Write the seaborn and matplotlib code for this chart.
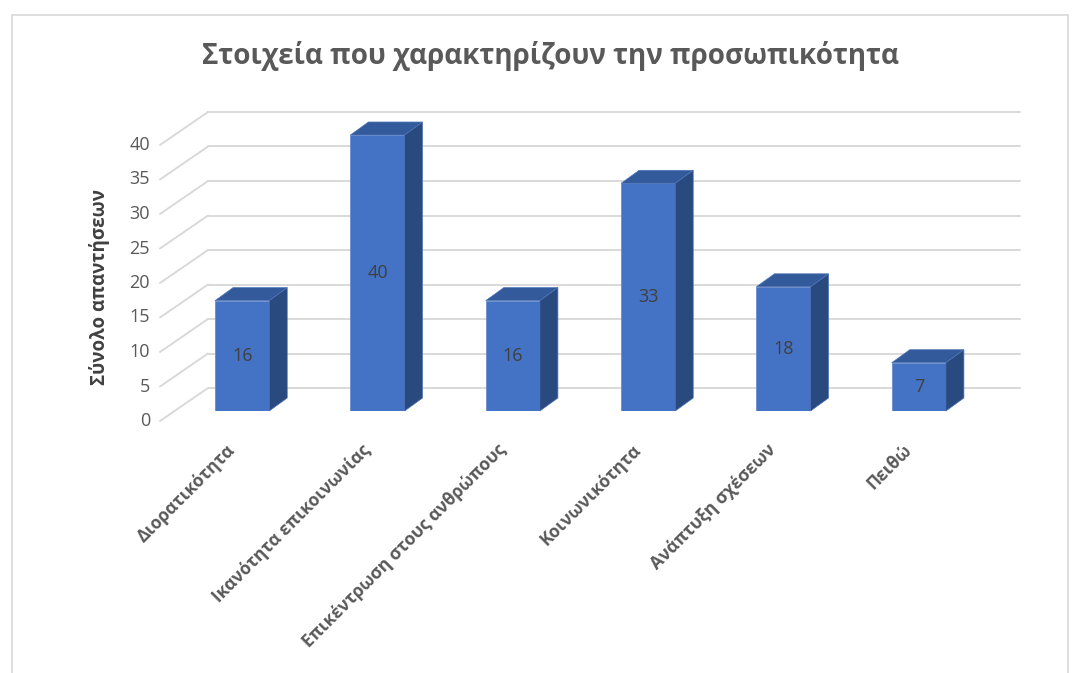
import matplotlib
matplotlib.use("Agg")
import matplotlib.pyplot as plt
import matplotlib.transforms as mtransforms
from matplotlib.patches import Polygon, Rectangle
import pandas as pd
import seaborn as sns

categories = ["Διορατικότητα", "Ικανότητα επικοινωνίας", "Επικέντρωση στους ανθρώπους",
              "Κοινωνικότητα", "Ανάπτυξη σχέσεων", "Πειθώ"]
values = [16, 40, 16, 33, 18, 7]
y_ticks = [0, 5, 10, 15, 20, 25, 30, 35, 40]
title = "Στοιχεία που χαρακτηρίζουν την προσωπικότητα"
y_label = "Σύνολο απαντήσεων"

sns.set_theme(style="white")
plt.rcParams["font.family"] = ["Open Sans", "DejaVu Sans"]

W, H = 1076, 673
fig = plt.figure(figsize=(W / 100, H / 100), dpi=100)
# axes = plane of the bars' front faces
ax_l, ax_b, ax_w, ax_h = 174.5, 411, 812, 276
ax = fig.add_axes([ax_l / W, (H - ax_b) / H, ax_w / W, ax_h / H])

df = pd.DataFrame({"cat": categories, "val": values})
sns.barplot(data=df, x="cat", y="val", color="#4472C4", saturation=1,
            width=0.4, ax=ax, zorder=3, edgecolor="#6A8CCB", linewidth=0.6)
ax.set_xlim(-0.5, 5.5)
ax.set_ylim(0, 40)

ux = ax_w / 6.0
uy = ax_h / 40.0


def d(px, py):
    return px / ux, py / uy


bx, by = d(33.5, 23)      # back wall offset
fx, fy = d(-14.5, -10)    # front plane offset
dx, dy = d(18, 13)        # bar depth

grid_c = "#D9D9D9"
for v in y_ticks:
    ax.plot([-0.5 + bx, 5.5 + bx], [v + by, v + by], color=grid_c, lw=1.4,
            zorder=0, clip_on=False)
    ax.plot([-0.5 + fx, -0.5 + bx], [v + fy, v + by], color=grid_c, lw=1.4,
            zorder=0, clip_on=False)
    ax.text(-0.5 + fx - 10 / ux, v + fy, str(v), ha="right", va="center",
            fontsize=13, color="#595959", clip_on=False)

for p, v in zip(ax.patches, values):
    x0 = p.get_x()
    x1 = x0 + p.get_width()
    h = p.get_height()
    top = Polygon([(x0, h), (x1, h), (x1 + dx, h + dy), (x0 + dx, h + dy)],
                  closed=True, facecolor="#335A9B", edgecolor="#4F74B8", lw=0.5,
                  zorder=3, clip_on=False)
    side = Polygon([(x1, 0), (x1 + dx, dy), (x1 + dx, h + dy), (x1, h)],
                   closed=True, facecolor="#294A7F", edgecolor="#4F74B8", lw=0.5,
                   zorder=3, clip_on=False)
    ax.add_patch(top)
    ax.add_patch(side)
    ax.text(x0 + p.get_width() / 2, h / 2, str(v), ha="center", va="center",
            fontsize=13, color="#404040", zorder=5)

sns.despine(ax=ax, left=True, bottom=True)
ax.set_yticks([])
ax.set_xlabel("")
ax.set_ylabel("")
ax.tick_params(axis="x", length=0, pad=26)
ax.set_xticks(range(len(categories)))
ax.set_xticklabels(categories, rotation=45, ha="right", va="center",
                   rotation_mode="anchor", fontsize=12.5, fontweight="bold",
                   color="#595959")
shift = mtransforms.ScaledTranslation(-0.10, 0, fig.dpi_scale_trans)
for lab in ax.get_xticklabels():
    lab.set_transform(lab.get_transform() + shift)

fig.text(551 / W, 1 - 56 / H, title, ha="center", va="center", fontsize=20,
         fontweight="bold", color="#595959")
fig.text(100 / W, 1 - 287 / H, y_label, ha="center", va="center", rotation=90,
         fontsize=13.5, fontweight="bold", color="#404040")

fig.patches.append(Rectangle((12 / W, -0.05), (1068 - 12) / W, 1.05 - 15 / H,
                             transform=fig.transFigure, fill=False,
                             edgecolor="#D9D9D9", lw=1.2))

fig.savefig("out.png", dpi=100)
